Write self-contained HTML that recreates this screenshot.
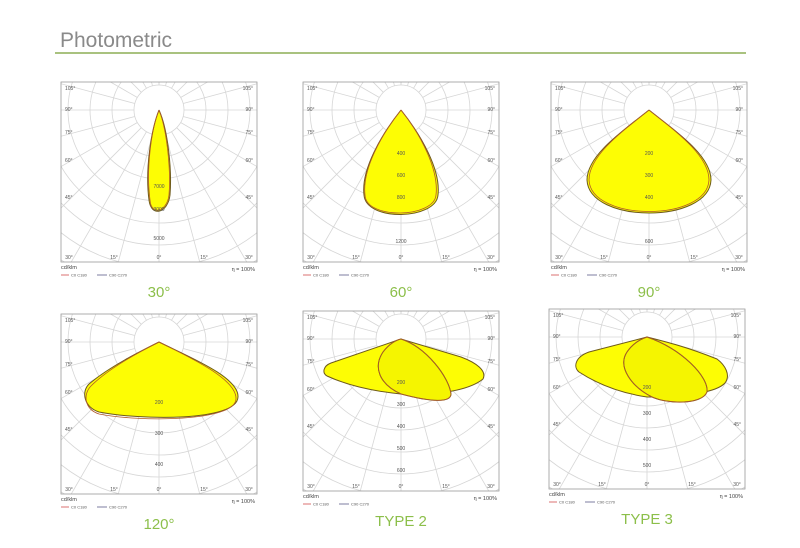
<!DOCTYPE html>
<html><head><meta charset="utf-8"><style>
html,body{margin:0;background:#fff;width:800px;height:548px;overflow:hidden;font-family:"Liberation Sans",sans-serif}
svg{display:block}
</style></head><body>
<svg id="s" width="800" height="548" xmlns="http://www.w3.org/2000/svg" font-family="Liberation Sans, sans-serif">
<text x="60" y="47" font-size="21" fill="#8a8a8a">Photometric</text>
<rect x="55" y="52" width="691" height="2" fill="#a9c27f"/>
</svg>
<script>
var S=document.getElementById('s'),NS='http://www.w3.org/2000/svg';
function el(t,a,txt,p){var e=document.createElementNS(NS,t);for(var k in a)e.setAttribute(k,a[k]);if(txt!=null)e.textContent=txt;(p||S).appendChild(e);return e;}
var charts=[
 {cx:159,cy:110,t:'30°',vals:[[78,'7000'],[78+23,'3000'],[130,'5000']],
  shapes:['M0,0 C9,20 13,60 11,85 C9,103 -8,108 -10,90 C-14,60 -8,20 0,0'],
  red:['M0,0 C8,20 12,60 10,85 C8,102 -8,106 -9,90 C-13,60 -8,20 0,0']},
 {cx:401,cy:110,t:'60°',vals:[[45,'400'],[67,'600'],[89,'800'],[133,'1200']],
  shapes:['M0,0 C20,25 40,60 37,85 C35,110 -35,112 -37,85 C-40,60 -20,25 0,0'],
  red:['M0,0 C20,25 38,60 35,85 C33,108 -35,110 -36,85 C-39,60 -20,25 0,0']},
 {cx:649,cy:110,t:'90°',vals:[[45,'200'],[67,'300'],[89,'400'],[133,'600']],
  shapes:['M0,0 C25,20 62,45 62,70 C60,114 -60,114 -62,70 C-62,45 -25,20 0,0'],
  red:['M0,0 C25,20 60,45 60,70 C58,112 -58,112 -60,70 C-60,45 -25,20 0,0']},
 {cx:159,cy:342,t:'120°',vals:[[62,'200'],[93,'300'],[124,'400']],
  shapes:['M0,0 C30,15 80,35 79,55 C78,80 -20,78 -60,70 C-75,65 -78,50 -70,42 C-50,25 -20,10 0,0'],
  red:['M0,0 C30,15 78,37 77,57 C76,80 -20,80 -60,72 C-75,67 -76,52 -68,44 C-50,26 -20,10 0,0']},
 {cx:401,cy:339,t:'TYPE 2',vals:[[45,'200'],[67,'300'],[89,'400'],[111,'500'],[133,'600']],
  shapes:['M0,0 L-70,24 C-78,27 -79,34 -74,37 C-50,48 -20,53 0,55 C40,57 70,50 82,40 C86,32 76,24 60,18 Z','M0,0 C25,8 48,38 50,55 C50,64 30,63 0,55 C-22,45 -28,28 -18,13 C-12,5 -5,1 0,0'],
  red:['M0,0 C25,8 48,38 50,55 C50,64 30,63 0,55 C-22,45 -28,28 -18,13 C-12,5 -5,1 0,0']},
 {cx:647,cy:337,t:'TYPE 3',vals:[[52,'200'],[78,'300'],[104,'400'],[130,'500']],
  shapes:['M0,0 L-58,15 C-72,20 -74,30 -68,35 C-45,50 -20,57 0,60 C40,60 70,55 78,46 C84,38 78,28 70,22 C40,10 20,5 0,0 Z','M0,0 C35,12 62,40 60,55 C55,68 20,67 5,60 C-15,50 -30,30 -20,15 C-14,6 -6,2 0,0'],
  red:['M0,0 C35,12 62,40 60,55 C55,68 20,67 5,60 C-15,50 -30,30 -20,15 C-14,6 -6,2 0,0']}
];
charts.forEach(function(c,i){
 var g=el('g',{transform:'translate('+c.cx+','+c.cy+')'});
 var cid='c'+i;var cp=el('clipPath',{id:cid},null,g);el('rect',{x:-98,y:-28,width:196,height:180},null,cp);
 var gg=el('g',{'clip-path':'url(#'+cid+')'},null,g);
 for(var r=25;r<300;r+=22)el('circle',{cx:0,cy:0,r:r,fill:'none',stroke:'#d6d6d6','stroke-width':0.8},null,gg);
 for(var a=-180;a<=180;a+=15){var t=a*Math.PI/180;el('line',{x1:25*Math.sin(t),y1:25*Math.cos(t),x2:400*Math.sin(t),y2:400*Math.cos(t),stroke:'#d6d6d6','stroke-width':0.8},null,gg);}
 c.shapes.forEach(function(d,j){el('path',{d:d,fill:j==0?'#fdfd04':'#f5f500',stroke:'#6e5a1a','stroke-width':1},null,gg);});
 c.red.forEach(function(d){el('path',{d:d,fill:'none',stroke:'#b05a2a','stroke-width':0.8},null,gg);});
 el('rect',{x:-98,y:-28,width:196,height:180,fill:'none',stroke:'#9a9a9a','stroke-width':0.8},null,g);
 var fs={'font-size':5,fill:'#555'};
 [['105°',-22],['90°',-1],['75°',22],['60°',50],['45°',87]].forEach(function(p){
  el('text',Object.assign({x:-94,y:p[1]+2},fs),p[0],g);
  el('text',Object.assign({x:94,y:p[1]+2,'text-anchor':'end'},fs),p[0],g);});
 [['30°',-90],['15°',-45],['0°',0],['15°',45],['30°',90]].forEach(function(p){
  el('text',Object.assign({x:p[1],y:149,'text-anchor':'middle'},fs),p[0],g);});
 c.vals.forEach(function(v){el('text',Object.assign({x:0,y:v[0],'text-anchor':'middle'},fs),v[1],g);});
 el('text',{x:-98,y:159,'font-size':5.5,fill:'#444'},'cd/klm',g);
 el('text',{x:96,y:161,'font-size':5.5,fill:'#444','text-anchor':'end'},'η = 100%',g);
 el('line',{x1:-98,y1:165,x2:-90,y2:165,stroke:'#c33','stroke-width':0.7},null,g);
 el('text',{x:-88,y:166.5,'font-size':4,fill:'#555'},'C0  C180',g);
 el('line',{x1:-62,y1:165,x2:-52,y2:165,stroke:'#447','stroke-width':0.7},null,g);
 el('text',{x:-50,y:166.5,'font-size':4,fill:'#555'},'C90  C270',g);
 el('text',{x:0,y:187,'font-size':15,fill:'#8cbf4a','text-anchor':'middle'},c.t,g);
});
</script>
</body></html>
